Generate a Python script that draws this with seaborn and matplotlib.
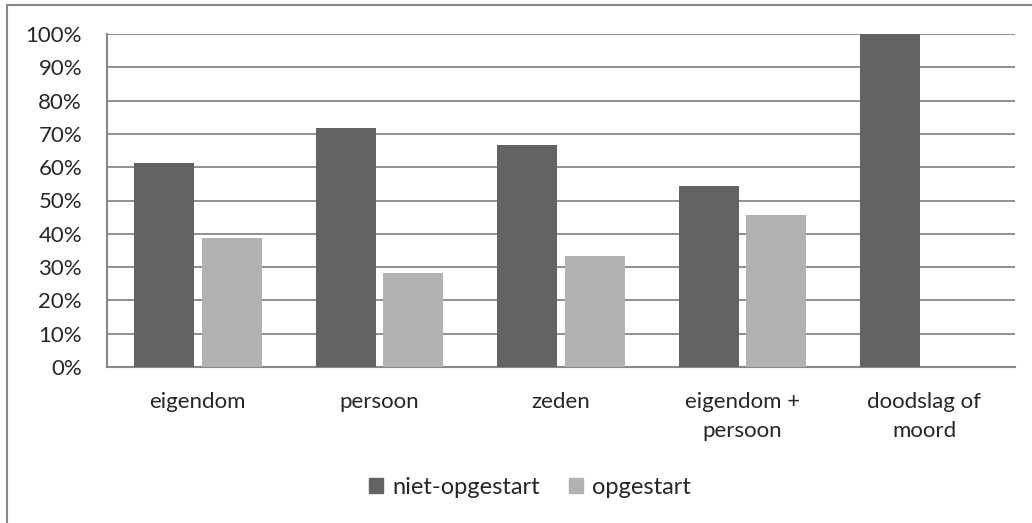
import numpy as np
import pandas as pd
import matplotlib
matplotlib.use('Agg')
import matplotlib.pyplot as plt
from matplotlib.lines import Line2D
from matplotlib.ticker import PercentFormatter
import seaborn as sns

# data
categories = ['eigendom', 'persoon', 'zeden', 'eigendom +\npersoon', 'doodslag of\nmoord']
niet_opgestart = [61.3, 71.9, 66.7, 54.5, 100.0]
opgestart = [38.7, 28.1, 33.3, 45.5, 0.0]
series = ['niet-opgestart', 'opgestart']
colors = ['#636363', '#b2b2b2']

df = pd.DataFrame({'categorie': categories * 2,
                   'reeks': [series[0]] * 5 + [series[1]] * 5,
                   'pct': niet_opgestart + opgestart})

sns.set_style('white')
plt.rcParams['font.family'] = ['Lato', 'DejaVu Sans']
grid_col = '#878787'

fig = plt.figure(figsize=(10.32, 5.23), dpi=100)
ax = fig.add_axes([107/1032, 1 - 367/523, 908/1032, 333/523])

sns.barplot(data=df, x='categorie', y='pct', hue='reeks', palette=colors,
            width=0.743, gap=0.11, ax=ax, saturation=1, zorder=3, edgecolor='none')

ax.set_ylim(0, 100)
ax.set_xlim(-0.5, 4.5)
ax.set_yticks(np.arange(0, 101, 10))
ax.yaxis.set_major_formatter(PercentFormatter(decimals=0))
ax.grid(axis='y', color=grid_col, linewidth=1.3, zorder=0)
ax.set_axisbelow(True)
ax.set_xlabel('')
ax.set_ylabel('')
for s in ['top', 'right']:
    ax.spines[s].set_visible(False)
for s in ['left', 'bottom']:
    ax.spines[s].set_color(grid_col)
    ax.spines[s].set_linewidth(1.5)
ax.tick_params(axis='y', length=0, pad=18, labelsize=16)
ax.tick_params(axis='x', length=0, pad=18, labelsize=16)
for t in ax.get_xticklabels():
    t.set_linespacing(1.55)

ax.legend_.remove()
handles = [plt.Rectangle((0, 0), 1, 1, color=c) for c in colors]
fig.legend(handles, series, loc='center', bbox_to_anchor=(530/1032, 1 - 487/523),
           ncol=2, frameon=False, fontsize=17, handlelength=0.6, handleheight=0.6,
           handletextpad=0.4, columnspacing=1.2)

# outer chart frame (top and left edge visible)
fig.add_artist(Line2D([7/1032, 1], [1 - 5/523, 1 - 5/523], color=grid_col, lw=1.5))
fig.add_artist(Line2D([7/1032, 7/1032], [0, 1 - 5/523], color=grid_col, lw=1.5))

fig.savefig('out.png', dpi=100)
